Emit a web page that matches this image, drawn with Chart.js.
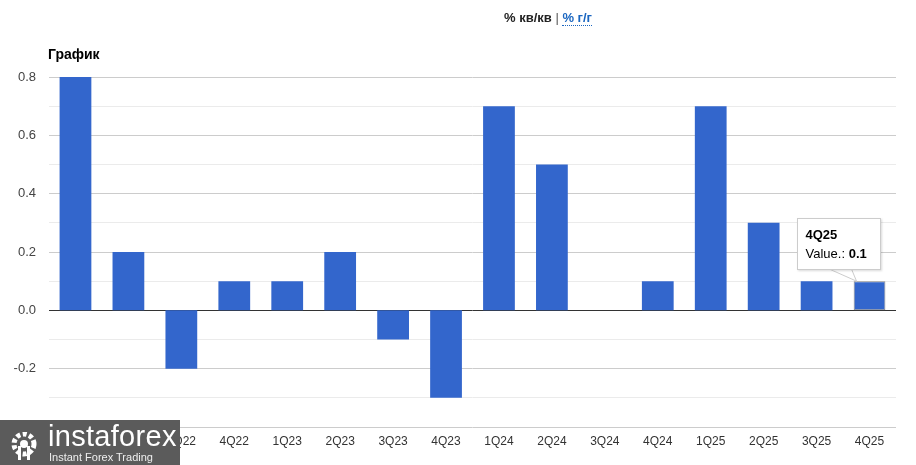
<!DOCTYPE html>
<html>
<head>
<meta charset="utf-8">
<script src="https://cdn.jsdelivr.net/npm/chart.js@4.4.1/dist/chart.umd.min.js"></script>
<style>
  html, body { margin: 0; padding: 0; background: #fff; font-family: Arial, "Liberation Sans", sans-serif; }
  #wrap { position: relative; width: 916px; height: 465px; overflow: hidden; }
  #header { position: absolute; top: 10px; left: 0; width: 1096px; text-align: center; font-size: 13px; font-weight: bold; color: #222; }
  #header .sep { font-weight: normal; color: #555; }
  #header .alt { color: #1a66c0; border-bottom: 1px dotted #1a66c0; }
  #title { position: absolute; top: 46px; left: 48px; font-size: 14px; font-weight: bold; color: #000; }
  #tip { position: absolute; width: 82px; height: 50px; background: #fff; border: 1px solid #ccc; box-shadow: 1px 1px 2px rgba(0,0,0,0.15); font-size: 13px; color: #000; box-sizing: content-box; }
  #tip .t { position: absolute; left: 8px; top: 8px; font-weight: bold; }
  #tip .b { position: absolute; left: 8px; top: 27px; }
  #tail { position: absolute; left: 0; top: 0; pointer-events: none; }
  #logo { position: absolute; left: 0; top: 420px; width: 180px; height: 45px; background: #5b5b5b; color: #fff; }
  #logo .big { position: absolute; left: 48px; top: 0px; font-size: 29px; letter-spacing: 0.3px; }
  #logo .small { position: absolute; left: 49px; top: 31px; font-size: 11px; color: #eee; }
  #logo .gear { position: absolute; left: 8px; top: 12px; width: 32px; height: 28px; }
</style>
</head>
<body>
<div id="wrap">
  <canvas id="chart" width="916" height="465"></canvas>
  <div id="header">% кв/кв <span class="sep">|</span> <span class="alt">% г/г</span></div>
  <div id="title">График</div>
  <svg id="tail" width="916" height="465"></svg>
  <div id="tip"><div class="t"></div><div class="b"></div></div>
  <div id="logo">
    <svg class="gear" viewBox="0 0 32 28">
      <circle cx="16" cy="12" r="10" fill="none" stroke="#fff" stroke-width="5" stroke-dasharray="4 2.5"/>
      <circle cx="16" cy="12" r="4" fill="#fff"/>
      <rect x="10" y="14" width="3" height="14" fill="#fff"/>
      <rect x="19" y="14" width="3" height="14" fill="#fff"/>
    </svg>
    <div class="big">instaforex</div>
    <div class="small">Instant Forex Trading</div>
  </div>
</div>
<script>
const quarters = ["1Q22", "2Q22", "3Q22", "4Q22", "1Q23", "2Q23", "3Q23", "4Q23",
                  "1Q24", "2Q24", "3Q24", "4Q24", "1Q25", "2Q25", "3Q25", "4Q25"];
const values = [0.8, 0.2, -0.2, 0.1, 0.1, 0.2, -0.1, -0.3,
                0.7, 0.5, 0, 0.1, 0.7, 0.3, 0.1, 0.1];
const highlighted = 15;

function gridColor(c) {
  const v = Math.round(c.tick.value * 10);
  if (v === 0) return "#333333";
  return v % 2 === 0 ? "#cccccc" : "#ebebeb";
}

const ctx = document.getElementById("chart").getContext("2d");
const chart = new Chart(ctx, {
  type: "bar",
  data: {
    labels: quarters,
    datasets: [{
      data: values,
      backgroundColor: "#3366cc",
      hoverBackgroundColor: "#3366cc",
      borderWidth: 0,
      hoverBorderWidth: 1,
      hoverBorderColor: "#8a8a8a",
      borderSkipped: false,
      barPercentage: 0.6,
      categoryPercentage: 1.0
    }]
  },
  options: {
    responsive: false,
    animation: false,
    events: [],
    layout: { padding: { top: 77, right: 20, left: 0, bottom: 0 } },
    plugins: {
      legend: { display: false },
      tooltip: { enabled: false }
    },
    scales: {
      x: {
        grid: { display: false, drawTicks: false },
        border: { display: false },
        ticks: { color: "#333", font: { family: "Arial", size: 12 }, padding: 7, maxRotation: 0, autoSkip: false },
        afterFit: (s) => { s.height = 38; }
      },
      y: {
        min: -0.4,
        max: 0.8,
        grid: { color: gridColor, drawTicks: false },
        border: { display: false },
        ticks: {
          stepSize: 0.1,
          color: "#444",
          font: { family: "Arial", size: 13 },
          padding: 13,
          callback: (v) => {
            const n = Math.round(v * 10);
            return n % 2 === 0 ? (n / 10).toFixed(1) : "";
          }
        },
        afterFit: (s) => { s.width = 49; }
      }
    }
  }
});

chart.setActiveElements([{ datasetIndex: 0, index: highlighted }]);
chart.update();

// tooltip positioned from the bar element
const bar = chart.getDatasetMeta(0).data[highlighted];
const tip = document.getElementById("tip");
tip.querySelector(".t").textContent = quarters[highlighted];
tip.querySelector(".b").innerHTML = "Value.: <b>" + values[highlighted] + "</b>";
const tipLeft = bar.x - 73, tipTop = bar.y - 63;
tip.style.left = tipLeft + "px";
tip.style.top = tipTop + "px";
const tail = document.getElementById("tail");
const by = tipTop + 51;
tail.innerHTML =
  '<polygon points="' + (tipLeft + 33) + ',' + by + ' ' + (tipLeft + 55) + ',' + by + ' ' + (bar.x - 13) + ',' + bar.y + '" fill="#fff" stroke="#ccc" stroke-width="1"/>' +
  '<line x1="' + (tipLeft + 33.5) + '" y1="' + by + '" x2="' + (tipLeft + 54.5) + '" y2="' + by + '" stroke="#fff" stroke-width="2"/>';
</script>
</body>
</html>
